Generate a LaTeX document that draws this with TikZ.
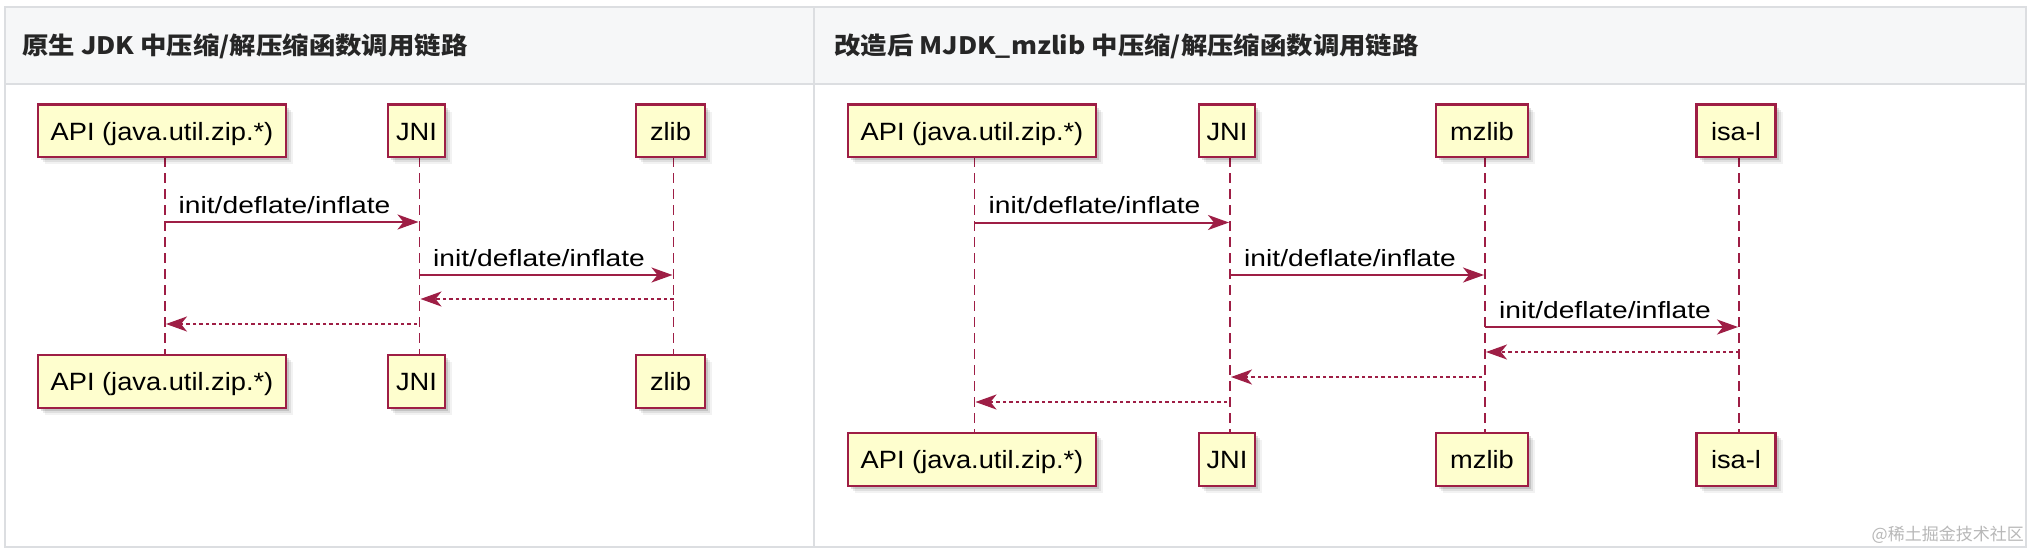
\documentclass[tikz,border=0pt]{standalone}
\usepackage{fontspec}
\setmainfont{Liberation Sans}
\newfontfamily\partfont[FakeStretch=1.09]{Liberation Sans}
\newfontfamily\labfont[FakeStretch=1.2]{Liberation Sans}
\newfontfamily\hdfont[FakeStretch=1.1]{Noto Sans CJK SC}
\newfontfamily\wmfont{Noto Sans CJK SC}
\usetikzlibrary{arrows.meta,shadows}
\definecolor{pumlred}{HTML}{A80036}
\definecolor{pumlline}{HTML}{9E1E45}
\definecolor{pumlfill}{HTML}{FEFECE}
\definecolor{hdbg}{HTML}{F6F7F8}
\definecolor{tblline}{HTML}{DCDEE1}
\definecolor{wmgray}{HTML}{B8B8B8}
\begin{document}
\begin{tikzpicture}[x=1pt,y=-1pt,
  part/.style={draw=pumlline, line width=2.4pt, fill=pumlfill, minimum height=52.5pt,
    inner sep=0pt, text height=18.4pt, text depth=0pt,
    font=\partfont\fontsize{25}{30}\selectfont,
    drop shadow={shadow xshift=3pt, shadow yshift=-3pt, fill=black, opacity=0.12},
    drop shadow={shadow xshift=5pt, shadow yshift=-5pt, fill=black, opacity=0.08},
    drop shadow={shadow xshift=7pt, shadow yshift=-7pt, fill=black, opacity=0.05}},
  lifeline/.style={draw=pumlline, line width=1.9pt, dash pattern=on 10pt off 6pt},
  call/.style={draw=pumlline, line width=2pt, -{Stealth[length=21pt, width=15pt, inset=6pt]}},
  ret/.style={draw=pumlline, line width=2pt, dash pattern=on 3.5pt off 3pt, -{Stealth[length=21pt, width=15pt, inset=6pt]}},
  lab/.style={anchor=base west, inner sep=0pt, font=\labfont\fontsize{23.5}{28}\selectfont},
  hd/.style={anchor=west, inner sep=0pt, font=\hdfont\bfseries\fontsize{24}{30}\selectfont, text=black!85}
]
\useasboundingbox (0,0) rectangle (2032,552);
\fill[white] (0,0) rectangle (2032,552);
% table frame
\fill[hdbg] (5,7) rectangle (2026,84);
\draw[tblline, line width=1.3pt] (5,7) rectangle (2026,547);
\draw[tblline, line width=1.3pt] (5,84) -- (2026,84);
\draw[tblline, line width=1.3pt] (814,7) -- (814,547);
\node[hd] (h1) at (22,46) {原生 JDK 中压缩/解压缩函数调用链路};
\node[hd] (h2) at (834,46) {改造后 MJDK\_mzlib 中压缩/解压缩函数调用链路};

% ---------- left diagram ----------
\coordinate (LA1) at (165,157); \coordinate (LA2) at (165,355);
\coordinate (LJ1) at (419.5,157); \coordinate (LJ2) at (419.5,355);
\coordinate (LZ1) at (673.5,157); \coordinate (LZ2) at (673.5,355);
\draw[lifeline] (LA1) -- (LA2);
\draw[lifeline] (LJ1) -- (LJ2);
\draw[lifeline] (LZ1) -- (LZ2);
\node[part, minimum width=248pt] (lapiT) at (162,130.8) {API (java.util.zip.*)};
\node[part, minimum width=56.5pt] (ljniT) at (416.5,130.8) {JNI};
\node[part, minimum width=68.5pt] (lzlibT) at (670.5,130.8) {zlib};
\node[part, minimum width=248pt] (lapiB) at (162,381.5) {API (java.util.zip.*)};
\node[part, minimum width=56.5pt] (ljniB) at (416.5,381.5) {JNI};
\node[part, minimum width=68.5pt] (lzlibB) at (670.5,381.5) {zlib};

\coordinate (la1) at (165,222); \coordinate (lj1) at (418.5,222);
\coordinate (lj2) at (419.5,275); \coordinate (lz2) at (672.5,275);
\coordinate (lz3) at (673.5,299); \coordinate (lj3) at (420.5,299);
\coordinate (lj4) at (417,324); \coordinate (la4) at (166,324);
\draw[call] (la1) -- (lj1);
\draw[call] (lj2) -- (lz2);
\draw[ret] (lz3) -- (lj3);
\draw[ret] (lj4) -- (la4);
\node[lab] (ll1) at (178.5,213) {init/deflate/inflate};
\node[lab] (ll2) at (433,266) {init/deflate/inflate};

% ---------- right diagram ----------
\coordinate (RA1) at (974.5,157); \coordinate (RA2) at (974.5,433);
\coordinate (RJ1) at (1230,157); \coordinate (RJ2) at (1230,433);
\coordinate (RM1) at (1485,157); \coordinate (RM2) at (1485,433);
\coordinate (RI1) at (1739,157); \coordinate (RI2) at (1739,433);
\draw[lifeline] (RA1) -- (RA2);
\draw[lifeline] (RJ1) -- (RJ2);
\draw[lifeline] (RM1) -- (RM2);
\draw[lifeline] (RI1) -- (RI2);
\node[part, minimum width=248pt] (rapiT) at (972,130.8) {API (java.util.zip.*)};
\node[part, minimum width=56.5pt] (rjniT) at (1227,130.8) {JNI};
\node[part, minimum width=92pt] (rmzT) at (1482,130.8) {mzlib};
\node[part, minimum width=79pt] (risaT) at (1736,130.8) {isa-l};
\node[part, minimum width=248pt] (rapiB) at (972,459.5) {API (java.util.zip.*)};
\node[part, minimum width=56.5pt] (rjniB) at (1227,459.5) {JNI};
\node[part, minimum width=92pt] (rmzB) at (1482,459.5) {mzlib};
\node[part, minimum width=79pt] (risaB) at (1736,459.5) {isa-l};

\coordinate (ra1) at (974.5,222.5); \coordinate (rj1) at (1229,222.5);
\coordinate (rj2) at (1230,275); \coordinate (rm2) at (1484,275);
\coordinate (rm3) at (1485,327); \coordinate (ri3) at (1738,327);
\coordinate (ri4) at (1739,352); \coordinate (rm4) at (1486,352);
\coordinate (rm5) at (1482,377); \coordinate (rj5) at (1231,377);
\coordinate (rj6) at (1227,402); \coordinate (ra6) at (975.5,402);
\draw[call] (ra1) -- (rj1);
\draw[call] (rj2) -- (rm2);
\draw[call] (rm3) -- (ri3);
\draw[ret] (ri4) -- (rm4);
\draw[ret] (rm5) -- (rj5);
\draw[ret] (rj6) -- (ra6);
\node[lab] (rl1) at (988.5,213.5) {init/deflate/inflate};
\node[lab] (rl2) at (1244,266) {init/deflate/inflate};
\node[lab] (rl3) at (1499,318) {init/deflate/inflate};

% watermark
\node[anchor=east, inner sep=0pt, text=wmgray, font=\wmfont\fontsize{17}{20}\selectfont] (wm) at (2024,535) {@稀土掘金技术社区};
\end{tikzpicture}
\end{document}
